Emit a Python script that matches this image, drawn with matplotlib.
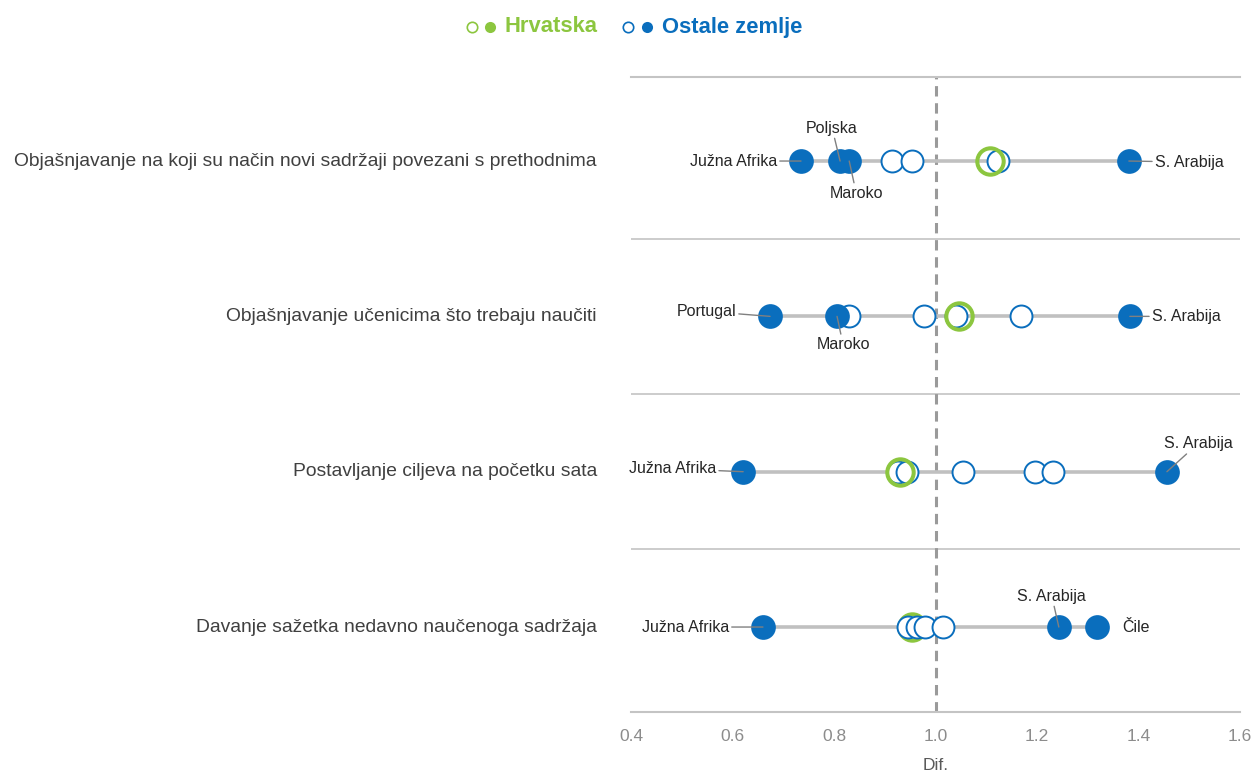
import matplotlib
matplotlib.use("Agg")
import matplotlib.pyplot as plt
from matplotlib.lines import Line2D
from matplotlib.transforms import blended_transform_factory

# ---- data -------------------------------------------------------------
categories = [
    "Objašnjavanje na koji su način novi sadržaji povezani s prethodnima",
    "Objašnjavanje učenicima što trebaju naučiti",
    "Postavljanje ciljeva na početku sata",
    "Davanje sažetka nedavno naučenoga sadržaja",
]
croatia = [1.107, 1.046, 0.930, 0.954]
other_countries = [
    [0.914, 0.954, 1.124],
    [0.830, 0.977, 1.040, 1.168],
    [0.926, 0.944, 1.054, 1.196, 1.232],
    [0.946, 0.963, 0.979, 1.015],
]
named_countries = [
    ["Južna Afrika", "Poljska", "Maroko", "S. Arabija"],
    ["Portugal", "Maroko", "S. Arabija"],
    ["Južna Afrika", "S. Arabija"],
    ["Južna Afrika", "S. Arabija", "Čile"],
]
named_values = [
    [0.735, 0.812, 0.830, 1.381],
    [0.674, 0.806, 1.383],
    [0.621, 1.456],
    [0.660, 1.243, 1.318],
]
x_ticks = [0.4, 0.6, 0.8, 1.0, 1.2, 1.4, 1.6]
x_label = "Dif."
legend_labels = ["Hrvatska", "Ostale zemlje"]

# ---- style ------------------------------------------------------------
GREEN = "#8cc63f"
BLUE = "#0a6ebd"
NARROW = ["Liberation Sans Narrow", "Liberation Sans", "DejaVu Sans"]
REGULAR = ["Liberation Sans", "DejaVu Sans"]

# drawing order of the Croatia ring relative to the other open circles
croatia_zorder = [4.5, 4.5, 4.5, 3]

# label placement: (dx, dy) in pixels from the point, horizontal alignment, leader line
label_layout = {
    (0, "Južna Afrika"): (-24, 0, "right", True),
    (0, "Poljska"): (-8, 33, "center", True),
    (0, "Maroko"): (7, -32, "center", True),
    (0, "S. Arabija"): (26, -1, "left", True),
    (1, "Portugal"): (-34, 5, "right", True),
    (1, "Maroko"): (6, -28, "center", True),
    (1, "S. Arabija"): (22, 0, "left", True),
    (2, "Južna Afrika"): (-27, 3, "right", True),
    (2, "S. Arabija"): (31, 28, "center", True),
    (3, "Južna Afrika"): (-34, 0, "right", True),
    (3, "S. Arabija"): (-7, 31, "center", True),
    (3, "Čile"): (25, 0, "left", False),
}

fig = plt.figure(figsize=(12.51, 7.72), dpi=100)
ax = fig.add_axes([631 / 1251, 1 - 712 / 772, (1240 - 631) / 1251, (712 - 77) / 772])

ax.set_xlim(0.4, 1.6)
ax.set_ylim(3.547, -0.541)

for s in ["left", "right"]:
    ax.spines[s].set_visible(False)
for s in ["top", "bottom"]:
    ax.spines[s].set_color("#c4c4c4")
    ax.spines[s].set_linewidth(1.5)

for yb in [0.5, 1.5, 2.5]:
    ax.axhline(yb, color="#c8c8c8", lw=1.3, zorder=1)

ax.axvline(1.0, color="#9a9a9a", lw=2.2, ls=(0, (3.4, 2.2)), zorder=1.5)

for i, cat in enumerate(categories):
    allv = [croatia[i]] + other_countries[i] + named_values[i]
    ax.plot([min(allv), max(allv)], [i, i], color="#c0c0c0", lw=2.6,
            solid_capstyle="butt", zorder=2)
    ax.plot([croatia[i]], [i], ls="none", marker="o", ms=19, mfc="none",
            mec=GREEN, mew=2.9, zorder=croatia_zorder[i])
    ax.plot(other_countries[i], [i] * len(other_countries[i]), ls="none",
            marker="o", ms=15.8, mfc="white", mec=BLUE, mew=1.4, zorder=4)
    ax.plot(named_values[i], [i] * len(named_values[i]), ls="none",
            marker="o", ms=17.8, mfc=BLUE, mec=BLUE, mew=0, zorder=5)

    for name, val in zip(named_countries[i], named_values[i]):
        dx, dy, ha, leader = label_layout[(i, name)]
        props = None
        if leader:
            props = dict(arrowstyle="-", color="#808080", lw=1.0,
                         shrinkA=0, shrinkB=0)
        ax.annotate(name, xy=(val, i), xytext=(dx, dy),
                    textcoords="offset pixels", ha=ha, va="center",
                    fontsize=11.5, family=NARROW, color="#262626",
                    arrowprops=props, zorder=6)

# category labels on the left
trans = blended_transform_factory(ax.transAxes, ax.transData)
for i, cat in enumerate(categories):
    ax.text(-0.056, i, cat, transform=trans, ha="right", va="center",
            fontsize=13.85, family=REGULAR, color="#404040")

ax.set_yticks([])
ax.set_xticks(x_ticks)
ax.set_xticklabels([f"{t:.1f}" for t in x_ticks], family=NARROW,
                   fontsize=12.5, color="#8c8c8c")
ax.tick_params(axis="x", length=0, pad=12)
ax.set_xlabel(x_label, family=NARROW, fontsize=12.5, color="#595959",
              labelpad=10)

# legend at the top
def fx(px):
    return px / 1251

def fy(py):
    return 1 - py / 772

legend_y = 27
for (xo, xf, xt), label, col in zip([(472, 490, 505), (628, 647, 662)],
                                    legend_labels, [GREEN, BLUE]):
    fig.add_artist(Line2D([fx(xo)], [fy(legend_y)], marker="o", ms=7.5,
                          mfc="white", mec=col, mew=1.2, ls="none"))
    fig.add_artist(Line2D([fx(xf)], [fy(legend_y)], marker="o", ms=8,
                          mfc=col, mec=col, mew=0, ls="none"))
    fig.text(fx(xt), fy(legend_y), label, ha="left", va="center",
             fontsize=15.8, fontweight="bold", family=NARROW, color=col)

fig.savefig("out.png", dpi=100, facecolor="white")
